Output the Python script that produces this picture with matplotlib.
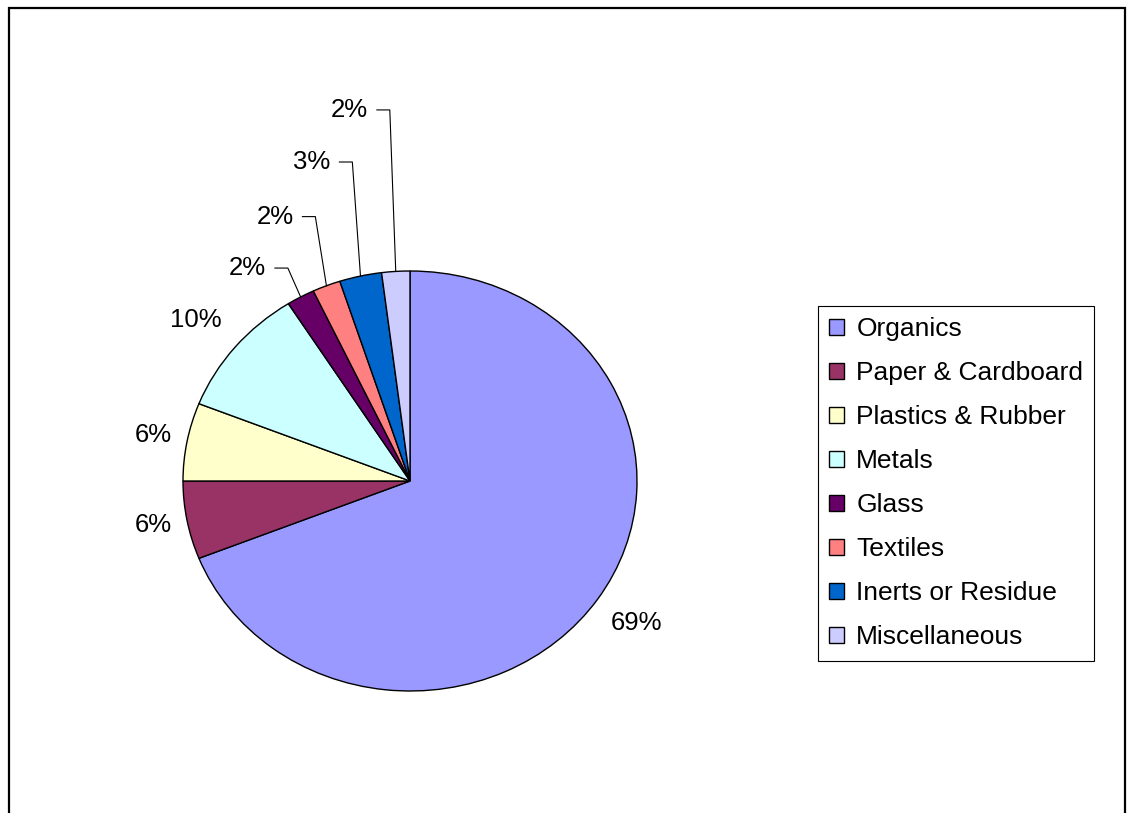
import numpy as np
import matplotlib
matplotlib.use("Agg")
import matplotlib.pyplot as plt
from matplotlib.patches import Patch, Rectangle

plt.rcParams['font.family'] = ['Liberation Sans', 'DejaVu Sans']

categories = ["Organics", "Paper & Cardboard", "Plastics & Rubber", "Metals",
              "Glass", "Textiles", "Inerts or Residue", "Miscellaneous"]
shares = [69, 6, 6, 10, 2, 2, 3, 2]
pct_labels = ["69%", "6%", "6%", "10%", "2%", "2%", "3%", "2%"]
colors = ["#9999FF", "#993366", "#FFFFCC", "#CCFFFF",
          "#660066", "#FF8080", "#0066CC", "#CCCCFF"]

# label centres in data units (pie radius = 1), and which get a leader line
label_pos = [(0.996, -0.676), (-1.132, -0.21), (-1.132, 0.219), (-0.943, 0.767),
             (-0.716, 1.014), (-0.595, 1.259), (-0.432, 1.519), (-0.267, 1.767)]
leader = [False, False, False, False, True, True, True, True]

W, H = 1129, 813
fig = plt.figure(figsize=(W / 100, H / 100), dpi=100)
ax = fig.add_axes([0, 0, 1, 1])

# pie is stretched a little wider than tall, like the original
cx, cy, rx, ry = 410, 481, 227, 210

wedges, _ = ax.pie(shares, colors=colors, startangle=90, counterclock=False,
                   wedgeprops=dict(edgecolor="black", linewidth=1))
ax.set_aspect("auto")
ax.set_xlim(-cx / rx, (W - cx) / rx)
ax.set_ylim((cy - H) / ry, cy / ry)
ax.axis("off")

for w, txt, (lx, ly), has_line in zip(wedges, pct_labels, label_pos, leader):
    ax.text(lx, ly, txt, fontsize=18.5, ha="center", va="center")
    if has_line:
        mid = np.deg2rad((w.theta1 + w.theta2) / 2)
        x0 = lx + 0.121
        x1 = x0 + 0.057
        ax.plot([x0, x1, np.cos(mid)], [ly, ly, np.sin(mid)],
                color="black", linewidth=0.8)

handles = [Patch(facecolor=c, edgecolor="black", linewidth=1) for c in colors]
leg = fig.legend(handles, categories, loc="upper left",
                 bbox_to_anchor=(818 / W, 1 - 306 / H), borderaxespad=0,
                 fontsize=19, frameon=True, fancybox=False, framealpha=1,
                 edgecolor="black", handlelength=0.58, handleheight=0.58,
                 handletextpad=0.45, labelspacing=0.76, borderpad=0.42)
leg.get_frame().set_linewidth(0.8)

# outer chart border (bottom is cut off in the original)
fig.patches.append(Rectangle((9 / W, -0.05), (1125 - 9) / W, 1.05 - 8 / H,
                             transform=fig.transFigure, fill=False,
                             edgecolor="black", linewidth=1.6))

fig.savefig("out.png", dpi=100)
